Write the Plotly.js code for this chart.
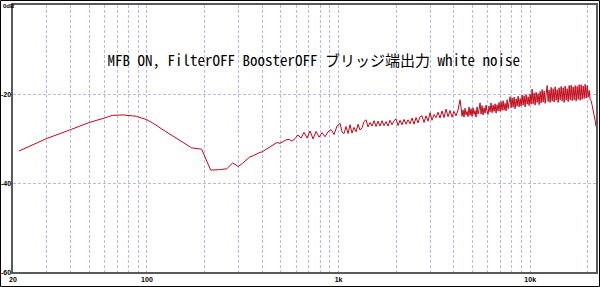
<!DOCTYPE html>
<html><head><meta charset="utf-8">
<script src="https://cdn.plot.ly/plotly-3.0.1.min.js"></script>
<style>html,body{margin:0;padding:0;background:#fff}#chart{width:600px;height:287px}</style>
</head><body><div id="chart"></div>
<script>
const chartTitle = 'MFB ON, FilterOFF BoosterOFF ブリッジ端出力 white noise';

const freqHz = [
  21.5, 25, 30, 40, 50, 60, 66, 75, 88, 100, 107, 125, 148, 171, 193, 203, 215, 240, 261, 280, 300, 315,
  333, 345, 358, 371, 385, 399, 413, 428, 444, 460, 477, 495, 513, 532, 551, 572, 593, 614, 637, 660,
  685, 710, 736, 763, 791, 820, 850, 881, 914, 947, 982,
  1018, 1043, 1068, 1094, 1121, 1148, 1176, 1204, 1234, 1264, 1294, 1326, 1358, 1391, 1425, 1460,
  1495, 1532, 1569, 1607, 1646, 1686, 1727, 1769, 1812, 1856, 1901, 1948, 1995, 2043, 2093, 2144,
  2196, 2250, 2304, 2360, 2418, 2476, 2537, 2598, 2661, 2726, 2793, 2860, 2930, 3001, 3074, 3149,
  3226, 3304, 3384, 3467, 3551, 3637, 3726, 3816, 3909, 4004, 4101, 4201, 4303,
  4355, 4408, 4461, 4515, 4570, 4625, 4681, 4738, 4795, 4853,
  4912, 4971, 5032, 5093, 5154, 5217, 5280, 5344, 5409, 5474,
  5540, 5607, 5675, 5744, 5814, 5884, 5955, 6027, 6100, 6174,
  6249, 6325, 6401, 6479, 6557, 6637, 6717, 6798, 6881, 6964,
  7048, 7134, 7220, 7308, 7396, 7486, 7576, 7668, 7761, 7855,
  7950, 8046, 8143, 8242, 8342, 8443, 8545, 8648, 8753, 8859,
  8966, 9074, 9184, 9295, 9408, 9522, 9637, 9754, 9872, 9991,
  10112, 10234, 10358, 10484, 10611, 10739, 10869, 11001, 11134, 11269,
  11405, 11543, 11683, 11824, 11967, 12112, 12259, 12407, 12557, 12709,
  12863, 13019, 13176, 13336, 13497, 13660, 13826, 13993, 14162, 14334,
  14507, 14683, 14860, 15040, 15222, 15406, 15593, 15781, 15972, 16165,
  16361, 16559, 16759, 16962, 17167, 17375, 17585, 17798, 18013, 18231,
  18452, 18675, 18901, 19130, 19361, 19595, 19832, 20072, 20315, 20561,
  20810, 21062, 21317, 21575, 21836, 22050
];

const levelDb = [
  -32.8, -31.6, -30.0, -28.0, -26.4, -25.4, -24.8, -24.7, -25.0, -25.8, -26.5, -28.4, -30.3, -32.1, -32.4, -34.8, -37.1, -37.0, -36.8, -35.5, -36.3, -35.6,
  -34.6, -34.1, -33.9, -33.5, -33.2, -33.0, -32.6, -32.1, -31.6, -31.2, -30.9, -31.1, -30.7, -30.3, -30.2, -30.6, -30.0, -29.2, -29.9, -28.6,
  -29.9, -28.3, -30.1, -28.4, -29.7, -28.7, -29.6, -28.5, -28.0, -29.1, -27.2,
  -26.6, -28.6, -28.9, -27.3, -28.9, -26.9, -28.8, -27.5, -28.5, -26.8, -28.1, -27.6, -26.2, -25.8, -27.4, -26.4,
  -27.2, -26.0, -27.3, -26.1, -27.2, -26.0, -27.1, -26.2, -27.2, -25.9, -26.9, -26.0, -25.6, -27.1, -25.9, -26.9,
  -25.7, -26.8, -25.8, -26.7, -25.4, -26.8, -25.3, -26.5, -25.1, -24.9, -26.4, -24.9, -26.1, -24.2, -25.9, -24.6,
  -25.3, -24.1, -25.4, -23.8, -25.3, -23.4, -25.1, -23.7, -25.2, -23.9, -24.9, -23.6, -21.3,
  -23.0, -25.0, -23.6, -25.2, -23.2, -24.7, -23.9, -25.1, -22.9, -24.8,
  -23.3, -25.0, -23.1, -24.6, -23.7, -25.2, -22.9, -24.5, -23.5, -22.0,
  -24.5, -22.6, -24.7, -23.1, -24.3, -22.5, -23.9, -24.6, -22.7, -24.0,
  -22.0, -24.2, -22.5, -23.9, -22.2, -24.3, -22.4, -23.8, -21.9, -23.9,
  -21.7, -23.7, -21.5, -23.6, -22.1, -23.8, -21.3, -23.3, -21.9, -20.6,
  -23.1, -20.9, -23.0, -20.7, -23.3, -21.1, -22.7, -20.5, -22.9, -21.0,
  -22.7, -20.2, -22.5, -20.4, -22.9, -20.1, -22.3, -20.6, -22.6, -20.0,
  -22.3, -18.9, -22.2, -19.8, -22.5, -19.6, -21.9, -19.9, -22.4, -19.4,
  -22.0, -19.0, -21.8, -19.3, -22.1, -18.9, -18.1, -21.7, -19.1, -21.9,
  -18.5, -21.6, -18.8, -21.8, -18.4, -21.4, -19.0, -21.9, -18.6, -21.3,
  -18.3, -21.6, -18.6, -21.9, -18.2, -21.4, -18.8, -21.7, -18.1, -21.3,
  -18.0, -21.5, -18.4, -21.3, -18.1, -21.6, -18.3, -21.2, -17.9, -21.4,
  -17.9, -21.2, -18.2, -21.0, -17.8, -20.9, -18.1, -20.7, -19.2, -21.3,
  -21.5, -22.6, -23.6, -24.8, -26.0, -27.3
];

const xGridVals = [20, 30, 40, 50, 60, 70, 80, 90, 100, 200, 300, 400, 500, 600, 700, 800, 900,
  1000, 2000, 3000, 4000, 5000, 6000, 7000, 8000, 9000, 10000, 20000];
const xTickText = ['20', '', '', '', '', '', '', '', '100', '', '', '', '', '', '', '', '',
  '1k', '', '', '', '', '', '', '', '', '10k', ''];
const yTickVals = [0, -20, -40, -60];
const yTickText = ['0dB', '-20', '-40', '-60'];

const plotW = 583, plotH = 267, mL = 13, mB = 15, W = 600, H = 287;
const tickFont = {family: 'Liberation Sans, Arial, sans-serif', size: 7, color: '#000', weight: 'bold'};
const topLabelFont = {family: 'Liberation Sans, Arial, sans-serif', size: 6, color: '#000', weight: 'bold'};
const gridCol = '#b8b8ee';

const yLabelAnnotations = yTickVals.map((v, i) => (i === 0 ? {
  xref: 'paper', x: 0, xanchor: 'left', xshift: -11,
  yref: 'y', y: v, yanchor: 'top', yshift: 3,
  text: yTickText[i], showarrow: false, borderpad: 0, font: topLabelFont
} : {
  xref: 'paper', x: 0, xanchor: 'right', xshift: -1,
  yref: 'y', y: v, yanchor: 'middle',
  text: yTickText[i], showarrow: false, borderpad: 0, font: tickFont
}));

const layout = {
  width: W, height: H,
  margin: {l: mL, r: 4, t: 5, b: mB},
  paper_bgcolor: '#ffffff', plot_bgcolor: '#ffffff',
  showlegend: false,
  title: {
    text: chartTitle,
    font: {family: "'Noto Sans Mono CJK JP', 'Noto Sans CJK JP', monospace", size: 15, color: '#000'},
    xref: 'container', yref: 'container',
    x: 0.523, xanchor: 'center', y: 1 - 61 / H, yanchor: 'middle'
  },
  xaxis: {
    type: 'log', range: [Math.log10(20), Math.log10(22050)],
    tickmode: 'array', tickvals: xGridVals, ticktext: xTickText,
    showgrid: true, gridcolor: gridCol, gridwidth: 1, griddash: '3px,2px',
    ticks: '', tickfont: tickFont,
    showline: true, linecolor: '#5a5a5a', linewidth: 2, mirror: true,
    zeroline: false
  },
  yaxis: {
    range: [-60, 0],
    tickmode: 'array', tickvals: yTickVals, showticklabels: false,
    showgrid: true, gridcolor: gridCol, gridwidth: 1, griddash: '3px,2px',
    ticks: '',
    showline: true, linecolor: '#5a5a5a', linewidth: 2, mirror: true,
    zeroline: false
  },
  annotations: yLabelAnnotations,
  shapes: [{
    type: 'rect', xref: 'paper', yref: 'paper',
    x0: (0.5 - mL) / plotW, x1: (W - 0.5 - mL) / plotW,
    y0: -(mB - 0.5) / plotH, y1: (H - mB - 0.5) / plotH,
    line: {color: '#000', width: 1}, fillcolor: 'rgba(0,0,0,0)'
  }]
};

Plotly.newPlot('chart', [{
  x: freqHz, y: levelDb, type: 'scatter', mode: 'lines',
  line: {color: '#c00818', width: 1}, hoverinfo: 'skip'
}], layout, {staticPlot: true});
</script></body></html>
